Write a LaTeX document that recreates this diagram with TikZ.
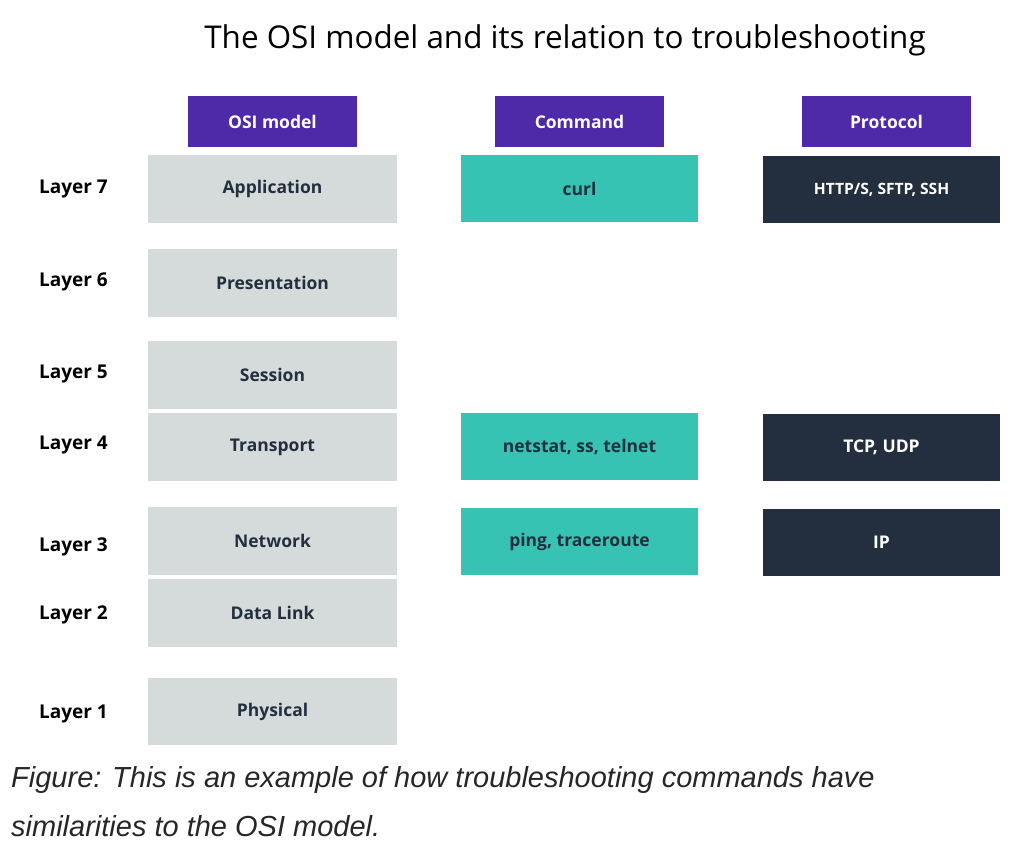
\documentclass[tikz,border=0pt]{standalone}
\usepackage{fontspec}
\setmainfont{Open Sans}
\newfontfamily\capfont{Liberation Sans}
\definecolor{hdr}{HTML}{4E29A8}
\definecolor{teal}{HTML}{37C3B3}
\definecolor{dark}{HTML}{232F3E}
\definecolor{lgray}{HTML}{D5DADB}
\begin{document}
\begin{tikzpicture}[x=1pt,y=-1pt,
  box/.style={anchor=north west,inner sep=0pt,outer sep=0pt,align=center,font=\fontsize{17.5}{20}\selectfont\bfseries},
  hdrbox/.style={box,fill=hdr,text=white,minimum width=169pt,minimum height=51pt},
  osibox/.style={box,fill=lgray,text=dark,minimum width=249pt,minimum height=68pt},
  cmdbox/.style={box,fill=teal,text=dark,minimum width=237pt,minimum height=67pt},
  protbox/.style={box,fill=dark,text=white,minimum width=237pt,minimum height=67pt},
  layer/.style={anchor=west,inner sep=0pt,font=\fontsize{19}{22}\selectfont\bfseries,text=black}]
\useasboundingbox (0,0) rectangle (1032,856);
\node[font=\fontsize{31.4}{36}\selectfont,text=black] (title) at (565,40) {The OSI model and its relation to troubleshooting};
% headers
\node[hdrbox] (hosi) at (188,96) {OSI model};
\node[hdrbox] (hcmd) at (495,96) {Command};
\node[hdrbox] (hprot) at (802,96) {Protocol};
% OSI boxes
\node[osibox] (l7) at (148,155) {Application};
\node[osibox] (l6) at (148,249) {Presentation};
\node[osibox] (l5) at (148,341) {Session};
\node[osibox] (l4) at (148,413) {Transport};
\node[osibox] (l3) at (148,507) {Network};
\node[osibox] (l2) at (148,579) {Data Link};
\node[osibox,minimum height=67pt] (l1) at (148,678) {Physical};
% layer labels
\node[layer] (t7) at (39,189) {Layer 7};
\node[layer] (t6) at (39,282) {Layer 6};
\node[layer] (t5) at (39,374) {Layer 5};
\node[layer] (t4) at (39,445) {Layer 4};
\node[layer] (t3) at (39,547) {Layer 3};
\node[layer] (t2) at (39,615) {Layer 2};
\node[layer] (t1) at (39,714) {Layer 1};
% commands
\node[cmdbox] (c7) at (461,155) {curl};
\node[cmdbox] (c4) at (461,413) {netstat, ss, telnet};
\node[cmdbox] (c3) at (461,508) {ping, traceroute};
% protocols
\node[protbox,font=\fontsize{15.6}{18}\selectfont\bfseries] (p7) at (763,156) {HTTP/S, SFTP, SSH};
\node[protbox] (p4) at (763,414) {TCP, UDP};
\node[protbox] (p3) at (763,509) {IP};
% caption
\node[anchor=west,inner sep=0pt,font=\capfont\itshape\fontsize{29}{34}\selectfont,text=black!85] (cap1) at (11,780) {Figure: This is an example of how troubleshooting commands have};
\node[anchor=west,inner sep=0pt,font=\capfont\itshape\fontsize{29}{34}\selectfont,text=black!85] (cap2) at (11,826) {similarities to the OSI model.};
\end{tikzpicture}
\end{document}
